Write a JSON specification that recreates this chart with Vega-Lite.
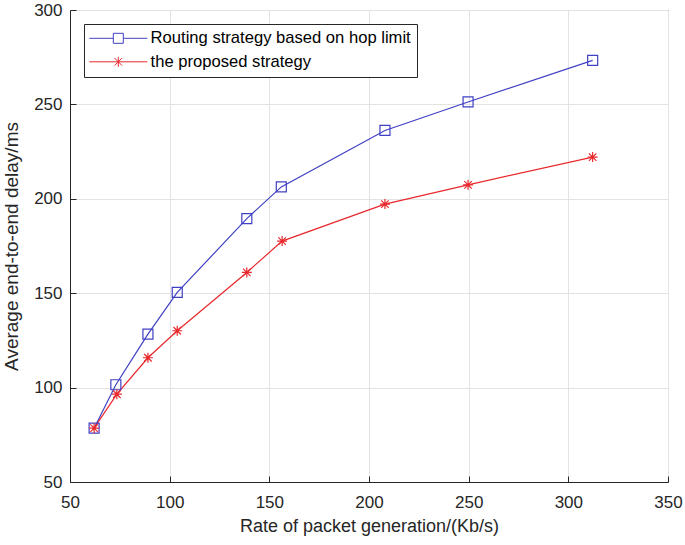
{
  "$schema": "https://vega.github.io/schema/vega-lite/v6.json",
  "autosize": {"type": "none"},
  "padding": {"left": 70, "top": 10, "right": 17, "bottom": 63},
  "width": 598,
  "height": 472,
  "background": "white",
  "config": {
    "font": "Liberation Sans",
    "view": {"stroke": "#262626", "strokeWidth": 1},
    "axis": {
      "domainColor": "#262626",
      "tickColor": "#262626",
      "labelColor": "#262626",
      "titleColor": "#262626",
      "labelFont": "Liberation Sans",
      "titleFont": "Liberation Sans",
      "labelFontSize": 17,
      "titleFontSize": 18,
      "titleFontWeight": "normal",
      "gridColor": "#e3e3e3",
      "gridWidth": 1,
      "tickSize": -6,
      "domainWidth": 1,
      "labelFlush": false
    }
  },
  "data": {
    "values": [
      {"rate": 62.1, "delay": 78.5, "series": "Routing strategy based on hop limit"},
      {"rate": 73.0, "delay": 101.5, "series": "Routing strategy based on hop limit"},
      {"rate": 89.1, "delay": 128.3, "series": "Routing strategy based on hop limit"},
      {"rate": 103.8, "delay": 150.4, "series": "Routing strategy based on hop limit"},
      {"rate": 138.7, "delay": 189.5, "series": "Routing strategy based on hop limit"},
      {"rate": 156.0, "delay": 206.3, "series": "Routing strategy based on hop limit"},
      {"rate": 208.0, "delay": 236.2, "series": "Routing strategy based on hop limit"},
      {"rate": 249.7, "delay": 251.3, "series": "Routing strategy based on hop limit"},
      {"rate": 312.2, "delay": 273.3, "series": "Routing strategy based on hop limit"},
      {"rate": 62.1, "delay": 78.5, "series": "the proposed strategy"},
      {"rate": 73.5, "delay": 96.5, "series": "the proposed strategy"},
      {"rate": 89.1, "delay": 115.8, "series": "the proposed strategy"},
      {"rate": 103.8, "delay": 130.1, "series": "the proposed strategy"},
      {"rate": 138.7, "delay": 161.0, "series": "the proposed strategy"},
      {"rate": 156.4, "delay": 177.6, "series": "the proposed strategy"},
      {"rate": 208.0, "delay": 197.2, "series": "the proposed strategy"},
      {"rate": 249.7, "delay": 207.4, "series": "the proposed strategy"},
      {"rate": 312.2, "delay": 222.1, "series": "the proposed strategy"}
    ]
  },
  "encoding": {
    "x": {"field": "rate", "type": "quantitative", "scale": {"domain": [50, 350], "nice": false, "zero": false},
      "axis": {"title": "Rate of packet generation/(Kb/s)", "values": [50, 100, 150, 200, 250, 300, 350], "grid": true, "labelPadding": 18, "titlePadding": 7}},
    "y": {"field": "delay", "type": "quantitative", "scale": {"domain": [50, 300], "nice": false, "zero": false},
      "axis": {"title": "Average end-to-end delay/ms", "values": [50, 100, 150, 200, 250, 300], "grid": true, "labelPadding": 14, "titlePadding": 12, "titleFontSize": 19}}
  },
  "layer": [
    {
      "mark": {"type": "line", "strokeWidth": 1.2},
      "encoding": {
        "color": {
          "field": "series", "type": "nominal",
          "scale": {"domain": ["Routing strategy based on hop limit", "the proposed strategy"], "range": ["#4040c4", "#e8282c"]},
          "legend": {
            "title": null,
            "orient": "none",
            "legendX": 14,
            "legendY": 14,
            "direction": "vertical",
            "fillColor": "white",
            "strokeColor": "#262626",
            "padding": 6,
            "labelFont": "Liberation Sans",
            "labelFontSize": 16.6,
            "labelColor": "#000000",
            "labelLimit": 500,
            "symbolSize": 100,
            "symbolStrokeWidth": 1,
            "symbolOffset": 20,
            "labelOffset": 24,
            "rowPadding": 6.5,
            "encode": {
              "symbols": {
                "update": {
                  "shape": {"signal": "datum.value === 'the proposed strategy' ? 'M-5.8,0H5.8M0,-1V1M-0.75,-0.75L0.75,0.75M-0.75,0.75L0.75,-0.75' : 'M-5.8,0H-1M1,0H5.8M-1,-1H1V1H-1Z'"},
                  "fill": {"value": "transparent"}
                }
              }
            }
          }
        }
      }
    },
    {
      "transform": [{"filter": "datum.series === 'Routing strategy based on hop limit'"}],
      "mark": {"type": "point", "shape": "square", "filled": false, "size": 100, "strokeWidth": 1.2, "opacity": 1, "color": "#4040c4"}
    },
    {
      "transform": [{"filter": "datum.series === 'the proposed strategy'"}],
      "mark": {"type": "point", "shape": "M-1,0H1M0,-1V1M-0.75,-0.75L0.75,0.75M-0.75,0.75L0.75,-0.75", "filled": false, "size": 100, "strokeWidth": 1.2, "opacity": 1, "color": "#e8282c"}
    }
  ]
}
